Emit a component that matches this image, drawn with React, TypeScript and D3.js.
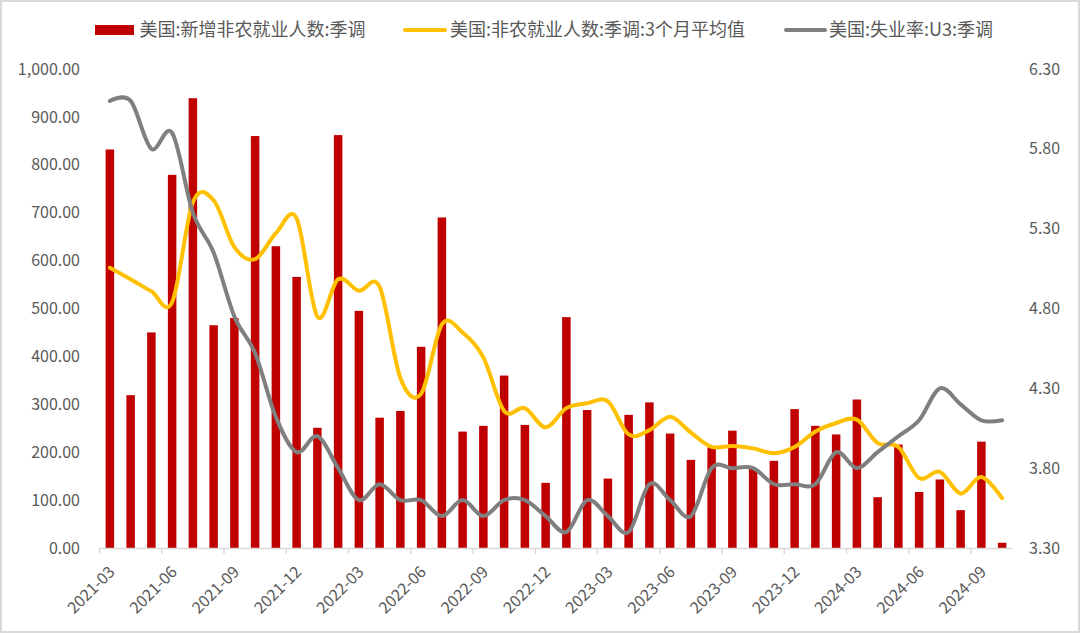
import React, { useEffect, useRef } from "react";
import * as d3 from "d3";

const months: string[] = [
  "2021-03","2021-04","2021-05","2021-06","2021-07","2021-08","2021-09","2021-10","2021-11","2021-12",
  "2022-01","2022-02","2022-03","2022-04","2022-05","2022-06","2022-07","2022-08","2022-09","2022-10","2022-11","2022-12",
  "2023-01","2023-02","2023-03","2023-04","2023-05","2023-06","2023-07","2023-08","2023-09","2023-10","2023-11","2023-12",
  "2024-01","2024-02","2024-03","2024-04","2024-05","2024-06","2024-07","2024-08","2024-09","2024-10",
];

const payrolls: number[] = [
  832, 319, 450, 779, 939, 465, 480, 860, 630, 566,
  251, 862, 495, 272, 286, 420, 690, 243, 255, 360, 257, 136,
  482, 288, 145, 278, 304, 239, 184, 210, 245, 165, 182, 290,
  255, 237, 310, 106, 216, 117, 143, 79, 222, 11,
];

const payrolls3m: number[] = [
  585, 561, 536, 513, 722, 726, 628, 603, 657, 688,
  483, 561, 537, 545, 355, 322, 467, 450, 398, 286, 292, 252,
  292, 302, 306, 237, 246, 274, 241, 211, 213, 208, 198, 211,
  243, 261, 268, 219, 211, 146, 159, 114, 148, 104,
];

const unemployment: number[] = [
  6.1, 6.1, 5.8, 5.9, 5.4, 5.15, 4.75, 4.52, 4.12, 3.9,
  4.0, 3.8, 3.6, 3.7, 3.6, 3.6, 3.5, 3.6, 3.5, 3.6, 3.6, 3.5,
  3.4, 3.6, 3.5, 3.4, 3.7, 3.6, 3.5, 3.8, 3.8, 3.8, 3.7, 3.7,
  3.7, 3.9, 3.8, 3.9, 4.0, 4.1, 4.3, 4.2, 4.1, 4.1,
];

const leftTicks: number[] = [0, 100, 200, 300, 400, 500, 600, 700, 800, 900, 1000];
const rightTicks: number[] = [3.3, 3.8, 4.3, 4.8, 5.3, 5.8, 6.3];

const seriesNames: string[] = [
  "美国:新增非农就业人数:季调",
  "美国:非农就业人数:季调:3个月平均值",
  "美国:失业率:U3:季调",
];

const W = 1080;
const H = 633;
const RED = "#C00000";
const YELLOW = "#FFC000";
const GREY = "#7F7F7F";
const TEXT = "#595959";
const FONT = "'Noto Sans CJK SC', 'Noto Sans', sans-serif";

export default function App() {
  const ref = useRef<SVGSVGElement | null>(null);

  useEffect(() => {
    document.body.style.margin = "0";
    const svg = d3.select(ref.current);
    svg.selectAll("*").remove();

    const x0 = 99.5, x1 = 1012.5, yBottom = 548, yTop = 69;

    const x = d3.scaleBand<string>().domain(months).range([x0, x1]).paddingInner(0.59).paddingOuter(0.295);
    const xCenter = (i: number) => x0 + (x1 - x0) / months.length * (i + 0.5);
    const yL = d3.scaleLinear().domain([0, 1000]).range([yBottom, yTop]);
    const yR = d3.scaleLinear().domain([3.3, 6.3]).range([yBottom, yTop]);

    // background + border
    svg.append("rect").attr("x", 1).attr("y", 1).attr("width", W - 2).attr("height", H - 2)
      .attr("fill", "#fff").attr("stroke", "#D9D9D9").attr("stroke-width", 2);

    // bars
    svg.append("g").selectAll("rect").data(payrolls).join("rect")
      .attr("x", (_d, i) => xCenter(i) - x.bandwidth() / 2)
      .attr("width", x.bandwidth())
      .attr("y", (d) => yL(d))
      .attr("height", (d) => yBottom - yL(d))
      .attr("fill", RED);

    // x axis line + ticks
    const axisG = svg.append("g");
    axisG.append("line").attr("x1", x0).attr("x2", x1).attr("y1", yBottom + 0.5).attr("y2", yBottom + 0.5)
      .attr("stroke", "#D9D9D9").attr("stroke-width", 1.5);
    const step = (x1 - x0) / months.length;
    const tickIdx = d3.range(0, months.length, 3);
    axisG.selectAll("line.tick").data(tickIdx).join("line").attr("class", "tick")
      .attr("x1", (i) => x0 + step * i).attr("x2", (i) => x0 + step * i)
      .attr("y1", yBottom).attr("y2", yBottom + 6)
      .attr("stroke", "#D9D9D9").attr("stroke-width", 1.5);
    axisG.selectAll("text").data(tickIdx).join("text")
      .attr("transform", (i) => `translate(${xCenter(i) + 2},${yBottom + 21}) rotate(-45)`)
      .attr("text-anchor", "end")
      .attr("dy", "0.35em")
      .attr("font-family", FONT).attr("font-size", 16).attr("fill", TEXT)
      .text((i) => months[i]);

    // left axis labels
    const fmtL = d3.format(",.2f");
    svg.append("g").selectAll("text").data(leftTicks).join("text")
      .attr("x", 80).attr("y", (d) => yL(d)).attr("dy", "0.35em")
      .attr("text-anchor", "end")
      .attr("font-family", FONT).attr("font-size", 16).attr("fill", TEXT)
      .text((d) => fmtL(d));

    // right axis labels
    const fmtR = d3.format(".2f");
    svg.append("g").selectAll("text").data(rightTicks).join("text")
      .attr("x", 1029).attr("y", (d) => yR(d)).attr("dy", "0.35em")
      .attr("text-anchor", "start")
      .attr("font-family", FONT).attr("font-size", 16).attr("fill", TEXT)
      .text((d) => fmtR(d));

    // lines
    const lineL = d3.line<number>().x((_d, i) => xCenter(i)).y((d) => yL(d)).curve(d3.curveCardinal.tension(0));
    const lineR = d3.line<number>().x((_d, i) => xCenter(i)).y((d) => yR(d)).curve(d3.curveCardinal.tension(0));
    svg.append("path").attr("d", lineL(payrolls3m) || "").attr("fill", "none")
      .attr("stroke", YELLOW).attr("stroke-width", 4).attr("stroke-linecap", "round").attr("stroke-linejoin", "round");
    svg.append("path").attr("d", lineR(unemployment) || "").attr("fill", "none")
      .attr("stroke", GREY).attr("stroke-width", 4).attr("stroke-linecap", "round").attr("stroke-linejoin", "round");

    // legend
    const lg = svg.append("g");
    const ly = 30;
    lg.append("rect").attr("x", 95).attr("y", ly - 5).attr("width", 39).attr("height", 10).attr("fill", RED);
    lg.append("line").attr("x1", 405).attr("x2", 445).attr("y1", ly).attr("y2", ly)
      .attr("stroke", YELLOW).attr("stroke-width", 4).attr("stroke-linecap", "round");
    lg.append("line").attr("x1", 786).attr("x2", 825).attr("y1", ly).attr("y2", ly)
      .attr("stroke", GREY).attr("stroke-width", 4).attr("stroke-linecap", "round");
    const lx = [139.5, 450, 829];
    lg.selectAll("text").data(seriesNames).join("text")
      .attr("x", (_d, i) => lx[i]).attr("y", ly).attr("dy", "0.35em")
      .attr("font-family", FONT).attr("font-size", 18).attr("fill", TEXT)
      .text((d) => d);
  }, []);

  return (
    <svg ref={ref} width={W} height={H} style={{ position: "absolute", left: 0, top: 0, display: "block" }} />
  );
}
